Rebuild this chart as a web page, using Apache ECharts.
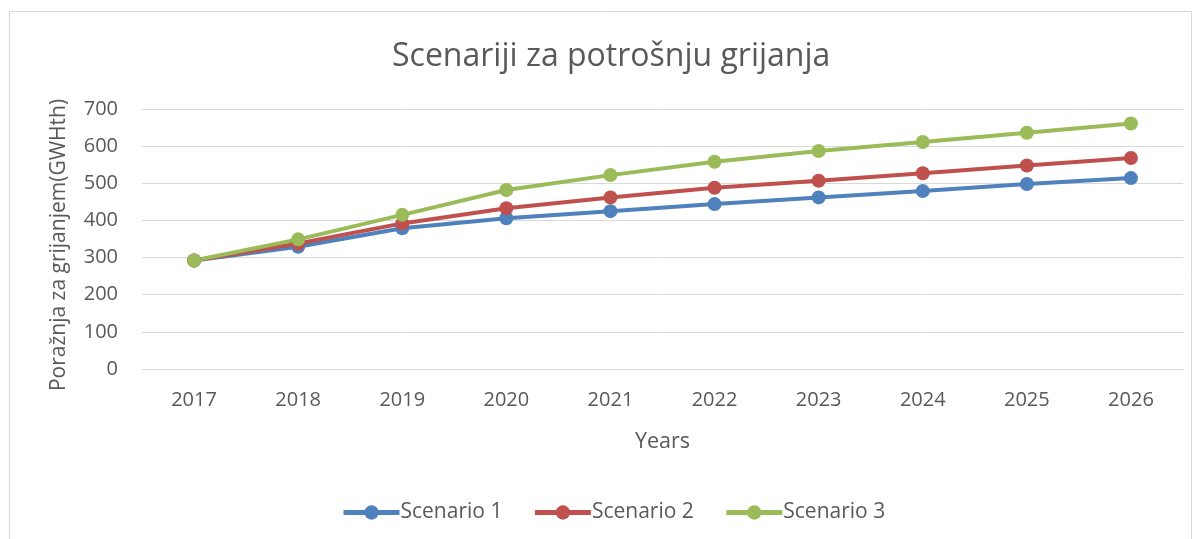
<html>
<head>
    <meta charset="utf-8" />
    <title>Scenariji za potrošnju grijanja</title>
    <script src="https://cdnjs.cloudflare.com/ajax/libs/echarts/6.0.0/echarts.min.js"></script>
    <style>
        body { margin: 0; background: #fff; }
        #chart { width: 1200px; height: 539px; }
    </style>
</head>
<body>
    <div id="chart"></div>
    <script type="text/javascript">
        var years = ['2017', '2018', '2019', '2020', '2021', '2022', '2023', '2024', '2025', '2026'];
        var scenario1 = [292, 329, 379, 406, 425, 444, 462, 479, 498, 514];
        var scenario2 = [292, 338, 392, 433, 462, 488, 507, 527, 548, 568];
        var scenario3 = [292, 349, 415, 482, 522, 558, 587, 611, 636, 661];

        var textColor = '#595959';
        var fontFamily = '"Open Sans", "Noto Sans", sans-serif';

        function makeSeries(name, data, color) {
            return {
                name: name,
                type: 'line',
                data: data,
                symbol: 'circle',
                symbolSize: 14,
                lineStyle: { width: 4, color: color },
                itemStyle: { color: color },
                emphasis: { disabled: true }
            };
        }

        var chart = echarts.init(document.getElementById('chart'));
        var option = {
            textStyle: { fontFamily: fontFamily },
            title: {
                text: 'Scenariji za potrošnju grijanja',
                left: 387,
                top: 36,
                textStyle: { fontSize: 32, fontWeight: 'normal', color: textColor, fontFamily: fontFamily }
            },
            graphic: [{
                type: 'rect',
                shape: { x: 9.5, y: 11.5, width: 1182, height: 540 },
                style: { fill: 'none', stroke: '#d9d9d9', lineWidth: 1 },
                silent: true
            }],
            legend: {
                bottom: 11,
                left: 336,
                itemWidth: 56,
                itemHeight: 18,
                itemGap: 30,
                textStyle: { fontSize: 21, color: textColor, fontFamily: fontFamily, padding: [0, 0, 0, -4] },
                lineStyle: { width: 5 },
                data: ['Scenario 1', 'Scenario 2', 'Scenario 3']
            },
            grid: { left: 142, right: 17, top: 109, bottom: 170 },
            xAxis: {
                type: 'category',
                data: years,
                name: 'Years',
                nameLocation: 'middle',
                nameGap: 62,
                nameTextStyle: { fontSize: 21.5, color: textColor },
                axisLine: { lineStyle: { color: '#d9d9d9' } },
                axisTick: { show: false },
                axisLabel: { fontSize: 20, color: textColor, margin: 21 }
            },
            yAxis: {
                type: 'value',
                min: 0,
                max: 700,
                interval: 100,
                name: 'Poražnja za grijanjem(GWHth)',
                nameLocation: 'middle',
                nameGap: 72,
                nameTextStyle: { fontSize: 21, color: textColor, padding: [0, 12, 0, 0] },
                axisLine: { show: false },
                axisTick: { show: false },
                axisLabel: { fontSize: 20, color: textColor, margin: 24 },
                splitLine: { lineStyle: { color: '#d9d9d9', width: 1 } }
            },
            series: [
                makeSeries('Scenario 1', scenario1, '#4f81bd'),
                makeSeries('Scenario 2', scenario2, '#c0504d'),
                makeSeries('Scenario 3', scenario3, '#9bbb59')
            ]
        };
        chart.setOption(option);
    </script>
</body>
</html>
